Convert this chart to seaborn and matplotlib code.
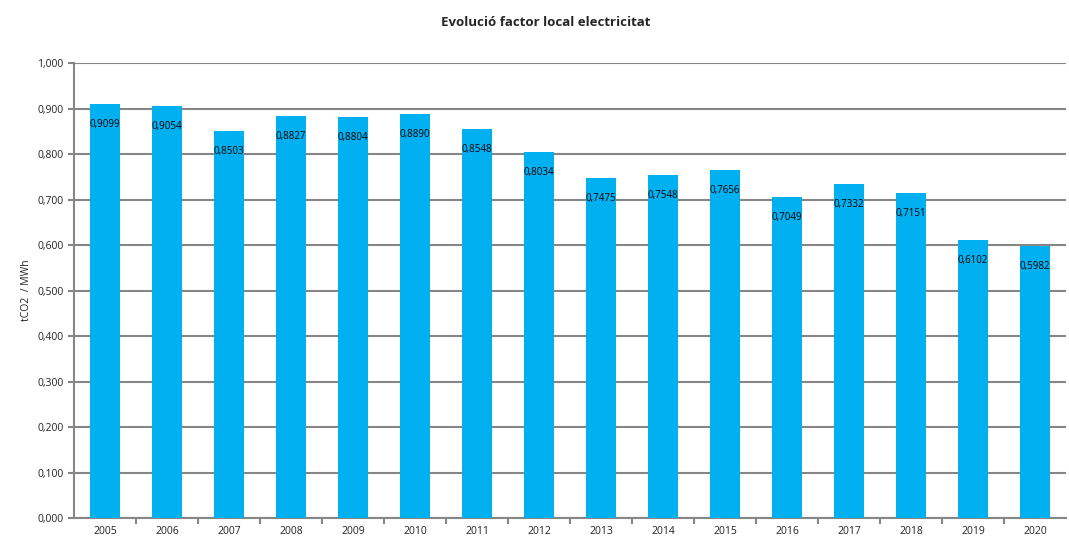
import matplotlib
matplotlib.use("Agg")
import matplotlib.pyplot as plt
import seaborn as sns
import pandas as pd

years = ["2005", "2006", "2007", "2008", "2009", "2010", "2011", "2012",
         "2013", "2014", "2015", "2016", "2017", "2018", "2019", "2020"]
values = [0.9099, 0.9054, 0.8503, 0.8827, 0.8804, 0.8890, 0.8548, 0.8034,
          0.7475, 0.7548, 0.7656, 0.7049, 0.7332, 0.7151, 0.6102, 0.5982]
label_texts = ["0,9099", "0,9054", "0,8503", "0,8827", "0,8804", "0,8890", "0,8548", "0,8034",
               "0,7475", "0,7548", "0,7656", "0,7049", "0,7332", "0,7151", "0,6102", "0,5982"]
yticks = [0.0, 0.1, 0.2, 0.3, 0.4, 0.5, 0.6, 0.7, 0.8, 0.9, 1.0]
ytick_labels = ["0,000", "0,100", "0,200", "0,300", "0,400", "0,500",
                "0,600", "0,700", "0,800", "0,900", "1,000"]

sns.set_style("white")
plt.rcParams['font.family'] = ['Open Sans', 'DejaVu Sans']

df = pd.DataFrame({"year": years, "value": values})

fig = plt.figure(figsize=(10.69, 5.41), dpi=100)
ax = fig.add_axes([0.0692, 0.0425, 0.928, 0.841])

sns.barplot(data=df, x="year", y="value", color="#00B0F0", saturation=1,
            width=0.49, ax=ax, zorder=3, linewidth=0)

ax.set_ylim(0, 1.0)
ax.set_xlim(-0.5, len(years) - 0.5)
ax.set_yticks(yticks)
ax.set_yticklabels(ytick_labels)
ax.yaxis.grid(True, color="#868686", linewidth=1.5, zorder=0)
ax.set_axisbelow(True)

for i, (v, t) in enumerate(zip(values, label_texts)):
    ax.text(i, v - 0.045, t, ha="center", va="center", fontsize=7, color="#000000", zorder=4)

for s in ["top", "right"]:
    ax.spines[s].set_visible(False)
ax.spines["left"].set_color("#868686")
ax.spines["left"].set_linewidth(1.5)
ax.spines["bottom"].set_color("#868686")
ax.spines["bottom"].set_linewidth(1.5)

ax.set_xticks([i + 0.5 for i in range(len(years) - 1)], minor=True)
ax.tick_params(axis="x", which="major", length=0, labelsize=7.5, pad=6, colors="#222222")
ax.tick_params(axis="x", which="minor", bottom=True, length=4, width=1.5, color="#868686", direction="out")
ax.tick_params(axis="y", length=4, width=1.5, color="#868686", labelsize=7.5, left=True,
               direction="out", labelcolor="#222222")

ax.set_xlabel("")
ax.set_ylabel("tCO2  / MWh", fontsize=7.5, labelpad=4, color="#222222")
fig.suptitle("Evolució factor local electricitat", fontsize=9.5, fontweight="bold", y=0.97, x=0.51)

fig.savefig("out.png", dpi=100)
